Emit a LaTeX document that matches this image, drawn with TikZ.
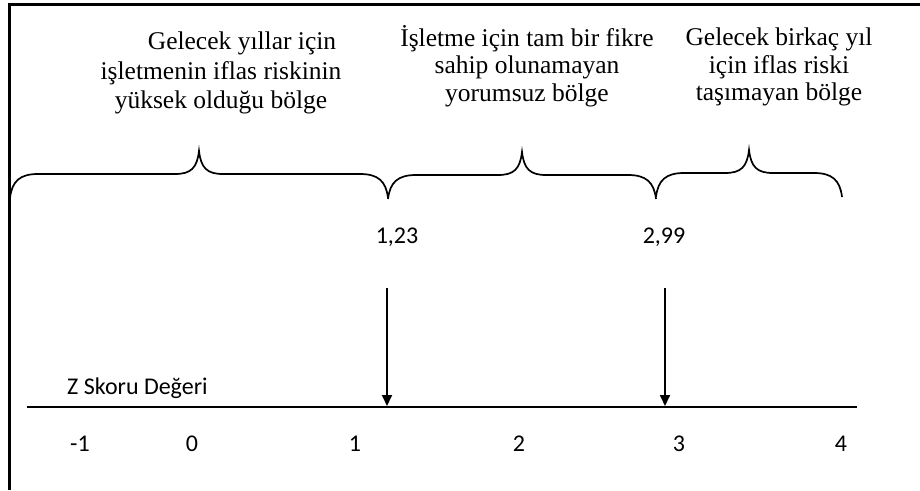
\documentclass[tikz,border=0pt]{standalone}
\usepackage{fontspec}
\setmainfont{Liberation Serif}
\newfontfamily\calib{Carlito}
\usetikzlibrary{arrows.meta}
\newcommand\zbrace[3]{% x1, x2, y0
  \pgfmathsetmacro\zmid{(#1+#2)/2}
  \draw[bracepath] (#1,#3) .. controls (#1+2,#3-17) and (#1+10,#3-24) .. (#1+28,#3-24)
    -- (\zmid-24,#3-24) .. controls (\zmid-8,#3-24) and (\zmid-2,#3-30) .. (\zmid,#3-47)
    .. controls (\zmid+2,#3-30) and (\zmid+8,#3-24) .. (\zmid+24,#3-24)
    -- (#2-28,#3-24) .. controls (#2-10,#3-24) and (#2-2,#3-17) .. (#2,#3);
}
\begin{document}
\begin{tikzpicture}[x=1pt,y=-1pt,
  region/.style={font=\fontsize{25.5}{29.5}\selectfont, align=center, inner sep=0pt},
  numlabel/.style={font=\calib\fontsize{24}{28}\selectfont, inner sep=0pt},
  ticklabel/.style={font=\calib\fontsize{24}{28}\selectfont, inner sep=0pt},
  bracepath/.style={line width=1.7pt},
  marker/.style={line width=1.8pt, -{Triangle[width=10pt,length=11pt]}},
  axisline/.style={line width=2.2pt},
  frameline/.style={line width=3pt}]
\useasboundingbox (0,0) rectangle (920,490);
\draw[frameline] (9,490) -- (9,4) -- (920,4);

\node[region] (r1) at (221,73) {\hspace*{42pt}Gelecek yıllar için\\işletmenin iflas riskinin\\yüksek olduğu bölge};
\node[region, font=\fontsize{25.5}{27.5}\selectfont] (r2) at (527,66) {İşletme için tam bir fikre\\sahip olunamayan\\yorumsuz bölge};
\node[region, font=\fontsize{25.5}{27.5}\selectfont] (r3) at (779,67) {Gelecek birkaç yıl\\için iflas riski\\taşımayan bölge};

\zbrace{10}{388}{198}
\zbrace{388}{656}{199}
\zbrace{656}{842}{197}

\node[numlabel] (n123) at (397,237) {1,23};
\node[numlabel] (n299) at (664,237) {2,99};

\coordinate (a1top) at (387,288);
\coordinate (a1) at (387,406);
\coordinate (a2top) at (665,288);
\coordinate (a2) at (665,406);
\coordinate (axL) at (27,407);
\coordinate (axR) at (857,407);
\draw[axisline] (axL) -- (axR);
\draw[marker] (a1top) -- (a1);
\draw[marker] (a2top) -- (a2);

\node[ticklabel, anchor=base west] (zlab) at (67,394) {Z Skoru Değeri};
\node[ticklabel] (tm1) at (80,444) {-1};
\node[ticklabel] (t0) at (192,444) {0};
\node[ticklabel] (t1) at (355,444) {1};
\node[ticklabel] (t2) at (519,444) {2};
\node[ticklabel] (t3) at (679,444) {3};
\node[ticklabel] (t4) at (841,444) {4};
\end{tikzpicture}
\end{document}
